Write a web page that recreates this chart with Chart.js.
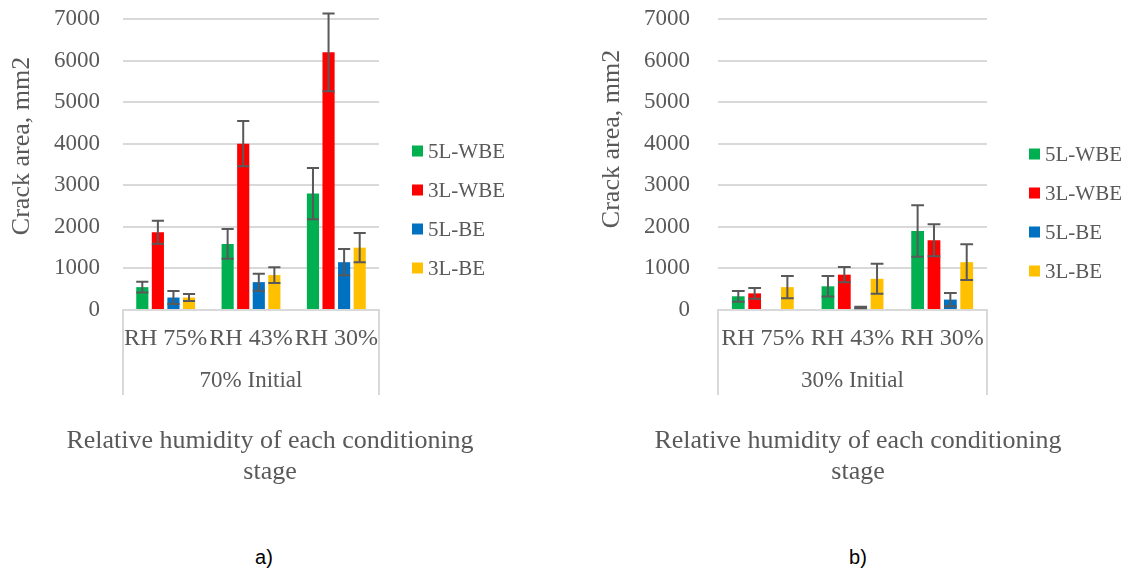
<!DOCTYPE html>
<html>
<head>
<meta charset="utf-8">
<script src="https://cdn.jsdelivr.net/npm/chart.js@4.4.0/dist/chart.umd.min.js"></script>
<style>
  body { margin: 0; background: #fff; width: 1129px; height: 578px; position: relative; overflow: hidden; }
  .box { position: absolute; top: 0; height: 500px; }
  #boxA { left: 0; width: 540px; }
  #boxB { left: 590px; width: 536px; }
  .tag { position: absolute; top: 546px; width: 60px; text-align: center; font: 20px 'Liberation Sans', sans-serif; color: #000; }
</style>
</head>
<body>
<div class="box" id="boxA"><canvas id="chartA"></canvas></div>
<div class="box" id="boxB"><canvas id="chartB"></canvas></div>
<div class="tag" style="left:234px">a)</div>
<div class="tag" style="left:828px">b)</div>

<script>
// --- Data ---
const stages = ['RH 75%', 'RH 43%', 'RH 30%'];
const seriesNames = ['5L-WBE', '3L-WBE', '5L-BE', '3L-BE'];
const yMax = 7000;
const yStep = 1000;

// 70% initial humidity
const initA = '70% Initial';
const wbe5A = [550, 1590, 2800];
const wbe3A = [1870, 4000, 6200];
const be5A = [300, 670, 1150];
const be3A = [300, 840, 1500];
const wbe5ErrA = [130, 360, 615];
const wbe3ErrA = [275, 545, 935];
const be5ErrA = [155, 205, 315];
const be3ErrA = [85, 190, 350];

// 30% initial humidity
const initB = '30% Initial';
const wbe5B = [330, 570, 1900];
const wbe3B = [400, 850, 1680];
const be5B = [0, 60, 250];
const be3B = [550, 750, 1150];
const wbe5ErrB = [130, 245, 620];
const wbe3ErrB = [130, 185, 385];
const be5ErrB = [0, 20, 160];
const be3ErrB = [265, 360, 430];

const yTitle = 'Crack area, mm2';
const axisTitle = ['Relative humidity of each conditioning', 'stage'];
const seriesColors = ['#00B050', '#FF0000', '#0070C0', '#FFC000'];

Chart.defaults.font.family = "'Liberation Serif', 'Times New Roman', serif";
Chart.defaults.color = '#595959';

// --- Error bars (± value) on every bar ---
const errorBars = {
    id: 'errorBars',
    afterDatasetsDraw(chart) {
        const ctx = chart.ctx;
        const y = chart.scales.y;
        ctx.save();
        ctx.strokeStyle = '#595959';
        ctx.lineWidth = 2;
        chart.data.datasets.forEach((ds, di) => {
            const meta = chart.getDatasetMeta(di);
            meta.data.forEach((bar, i) => {
                const v = ds.data[i];
                const e = ds.errors[i];
                if (!e) return;
                const top = y.getPixelForValue(v + e);
                const bot = y.getPixelForValue(v - e);
                const half = bar.width / 2;
                ctx.beginPath();
                ctx.moveTo(bar.x, top); ctx.lineTo(bar.x, bot);
                ctx.moveTo(bar.x - half, top); ctx.lineTo(bar.x + half, top);
                ctx.moveTo(bar.x - half, bot); ctx.lineTo(bar.x + half, bot);
                ctx.stroke();
            });
        });
        ctx.restore();
    }
};

// --- Category box, axis titles and side legend ---
const frame = {
    id: 'frame',
    afterDraw(chart, args, opts) {
        const ctx = chart.ctx;
        const area = chart.chartArea;
        ctx.save();

        // box round the two rows of category labels
        ctx.strokeStyle = '#d9d9d9';
        ctx.lineWidth = 2;
        ctx.beginPath();
        ctx.moveTo(area.left, area.bottom); ctx.lineTo(area.left, area.bottom + 85);
        ctx.moveTo(area.right, area.bottom); ctx.lineTo(area.right, area.bottom + 85);
        ctx.stroke();

        ctx.fillStyle = '#595959';

        // vertical axis title
        ctx.save();
        ctx.translate(22, opts.yTitleY);
        ctx.rotate(-Math.PI / 2);
        ctx.font = "26px 'Liberation Serif'";
        ctx.textAlign = 'center';
        ctx.textBaseline = 'middle';
        ctx.fillText(opts.yTitle, 0, 0);
        ctx.restore();

        // bottom axis title, centred on the whole chart
        ctx.font = "26px 'Liberation Serif'";
        ctx.textAlign = 'center';
        ctx.textBaseline = 'alphabetic';
        opts.title.forEach((line, i) => {
            ctx.fillText(line, chart.width / 2, area.bottom + 138 + i * 31);
        });

        // legend
        ctx.font = "21px 'Liberation Serif'";
        ctx.textAlign = 'left';
        ctx.textBaseline = 'middle';
        chart.data.datasets.forEach((ds, i) => {
            const cy = opts.legendY + i * 39;
            ctx.fillStyle = ds.backgroundColor;
            ctx.fillRect(area.right + opts.legendX, cy - 5.5, 11, 11);
            ctx.fillStyle = '#595959';
            ctx.fillText(ds.label, area.right + opts.legendX + 16, cy + 1);
        });
        ctx.restore();
    }
};

function makeChart(id, groupLabel, values, errors, left, right, legendX, legendY, yTitleY) {
    const ctx = document.getElementById(id).getContext('2d');
    return new Chart(ctx, {
        type: 'bar',
        data: {
            labels: stages,
            datasets: seriesNames.map((name, i) => ({
                label: name,
                data: values[i],
                errors: errors[i],
                backgroundColor: seriesColors[i],
                categoryPercentage: 0.73,
                barPercentage: 0.78
            }))
        },
        options: {
            responsive: true,
            maintainAspectRatio: false,
            animation: false,
            layout: { padding: { left: 0, top: 19, right: right, bottom: 105 } },
            plugins: {
                legend: { display: false },
                tooltip: { enabled: false },
                frame: { title: axisTitle, yTitle: yTitle, yTitleY: yTitleY, legendX: legendX, legendY: legendY }
            },
            scales: {
                x: {
                    grid: { display: false, drawTicks: false },
                    border: { display: true, color: '#d9d9d9', width: 2 },
                    ticks: { font: { size: 24 }, padding: 14, maxRotation: 0, minRotation: 0, autoSkip: false },
                    afterFit: s => { s.height = 43; s.paddingLeft = 0; s.paddingRight = 0; }
                },
                xg: {
                    type: 'category',
                    position: 'bottom',
                    labels: [groupLabel],
                    offset: true,
                    grid: { display: false, drawTicks: false },
                    border: { display: false },
                    ticks: { font: { size: 23 }, padding: 14, maxRotation: 0 },
                    afterFit: s => { s.height = 42; s.paddingLeft = 0; s.paddingRight = 0; }
                },
                y: {
                    min: 0,
                    max: yMax,
                    ticks: {
                        stepSize: yStep,
                        font: { size: 23 },
                        padding: left - 100,
                        callback: v => String(v)
                    },
                    grid: { color: '#d9d9d9', lineWidth: 2, drawTicks: false },
                    border: { display: false },
                    afterFit: s => { s.width = left; s.paddingTop = 0; s.paddingBottom = 0; }
                }
            }
        },
        plugins: [errorBars, frame]
    });
}

// --- Draw both panels ---
makeChart('chartA', initA,
    [wbe5A, wbe3A, be5A, be3A],
    [wbe5ErrA, wbe3ErrA, be5ErrA, be3ErrA],
    123, 161, 33, 151, 146);

makeChart('chartB', initB,
    [wbe5B, wbe3B, be5B, be3B],
    [wbe5ErrB, wbe3ErrB, be5ErrB, be3ErrB],
    128, 139, 42, 154, 139);
</script>
</body>
</html>
